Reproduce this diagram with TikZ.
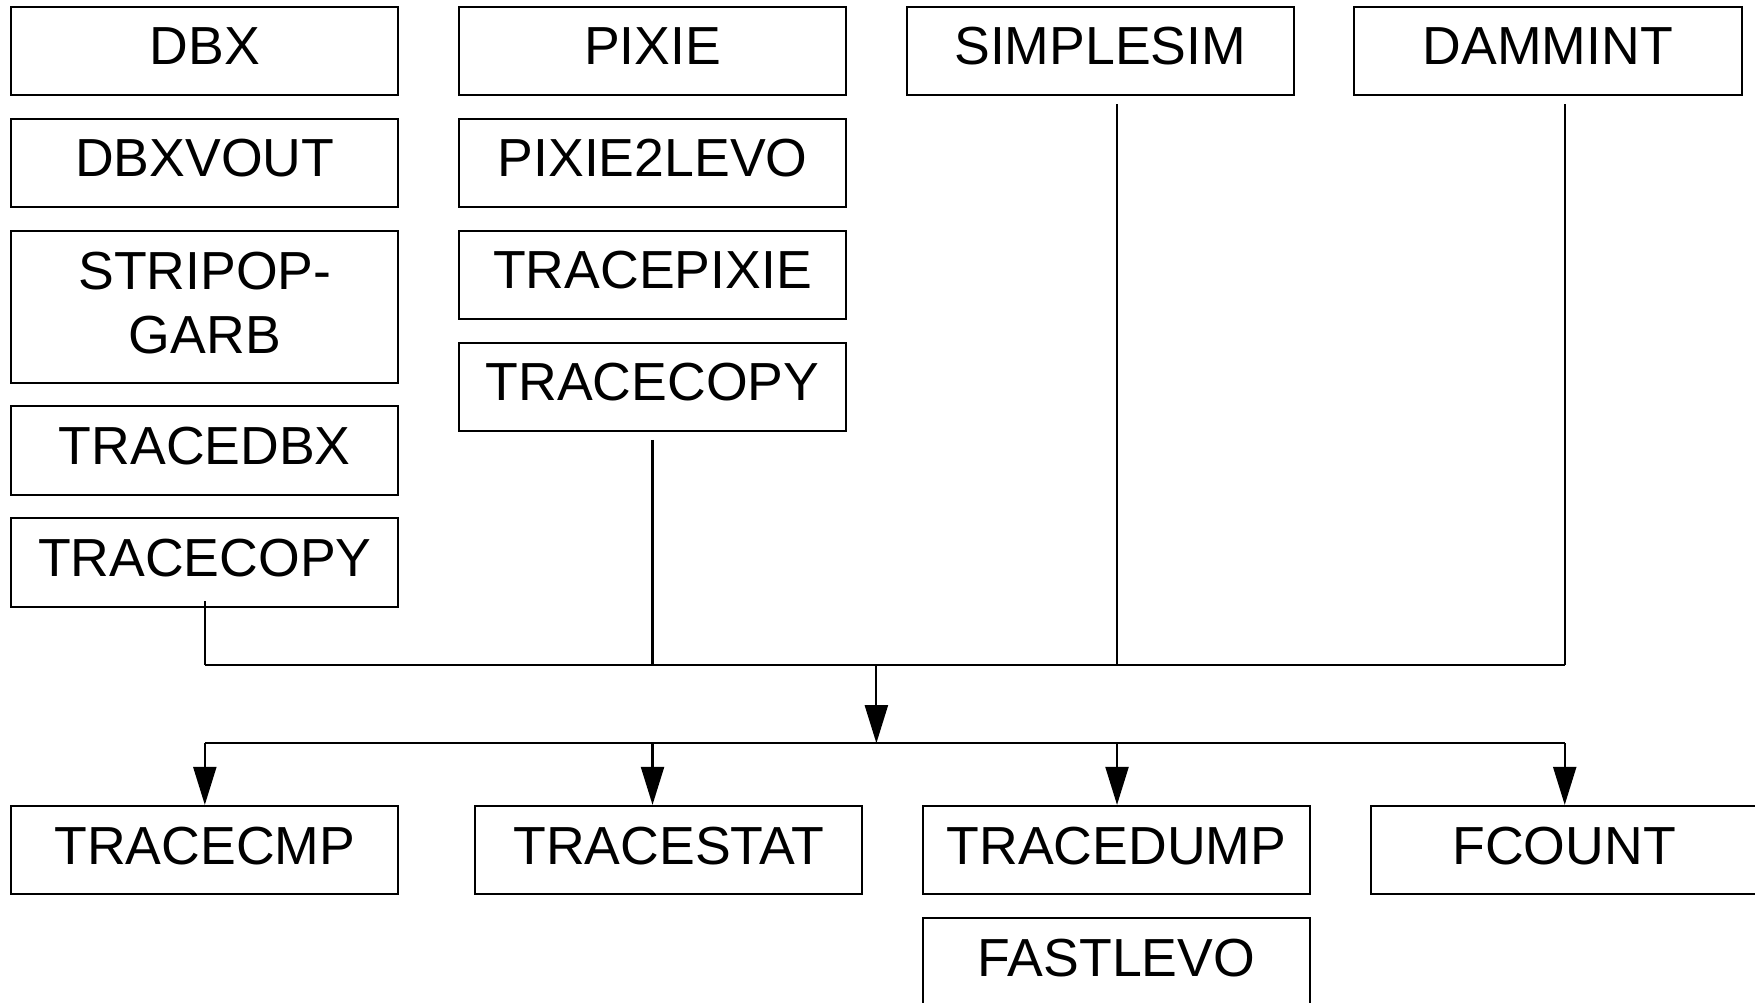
\documentclass[tikz,border=0pt]{standalone}
\usepackage{fontspec}
\setmainfont{Liberation Sans}
\usetikzlibrary{arrows.meta}
\tikzset{
  box/.style={draw, line width=1pt, rectangle, inner sep=0pt,
    minimum width=193.6pt, minimum height=44.2pt,
    font=\fontsize{26.8pt}{31.9pt}\selectfont, text height=19.2pt, text depth=5.2pt},
  tallbox/.style={draw, line width=1pt, rectangle, inner sep=0pt,
    minimum width=193.6pt, minimum height=76.1pt, align=center,
    font=\fontsize{26.8pt}{31.9pt}\selectfont},
  conn/.style={line width=1.1pt},
  arr/.style={line width=1.1pt, -{Triangle[length=19pt,width=11.5pt]}}
}
\begin{document}
\begin{tikzpicture}[x=0.5596pt, y=-0.5596pt]
\useasboundingbox (0,0) rectangle (1568,896);
% column 1
\node[box] (dbx) at (183,45.5) {DBX};
\node[box] (dbxvout) at (183,145.5) {DBXVOUT};
\node[tallbox] (strip) at (183,274) {};
\node[align=center, font=\fontsize{26.8pt}{31.9pt}\selectfont, inner sep=0pt] (striptext) at (183,271) {STRIPOP-\\GARB};
\node[box] (tracedbx) at (183,402.5) {TRACEDBX};
\node[box] (tracecopyA) at (183,502.5) {TRACECOPY};
% column 2
\node[box] (pixie) at (583,45.5) {PIXIE};
\node[box] (pixie2levo) at (583,145.5) {PIXIE2LEVO};
\node[box] (tracepixie) at (583,245.5) {TRACEPIXIE};
\node[box] (tracecopyB) at (583,345.5) {TRACECOPY};
% columns 3, 4
\node[box] (simplesim) at (983,45.5) {SIMPLESIM};
\node[box] (dammint) at (1383,45.5) {DAMMINT};
% bottom row
\node[box] (tracecmp) at (183,759.5) {TRACECMP};
\node[box] (tracestat) at (597.5,759.5) {TRACESTAT};
\node[box] (tracedump) at (997.5,759.5) {TRACEDUMP};
\node[box] (fcount) at (1397.5,759.5) {FCOUNT};
\node[box] (fastlevo) at (997.5,859.5) {FASTLEVO};
% junction coordinates
\coordinate (sA) at (183,537);
\coordinate (sB) at (583,393);
\coordinate (sC) at (998,93);
\coordinate (sD) at (1398,93);
\coordinate (jA) at (183,594);
\coordinate (jB) at (583,594);
\coordinate (jC) at (998,594);
\coordinate (jD) at (1398,594);
\coordinate (jM) at (783,594);
\coordinate (kM) at (783,664);
\coordinate (kA) at (183,664);
\coordinate (kB) at (583,664);
\coordinate (kC) at (998,664);
\coordinate (kD) at (1398,664);
% upper connectors
\draw[conn] (sA) -- (jA);
\draw[conn] (sB) -- (jB);
\draw[conn] (sC) -- (jC);
\draw[conn] (sD) -- (jD);
\draw[conn] (jA) -- (jD);
\draw[arr] (jM) -- (kM);
% lower connectors
\draw[conn] (kA) -- (kD);
\draw[arr] (kA) -- (kA |- tracecmp.north);
\draw[arr] (kB) -- (kB |- tracestat.north);
\draw[arr] (kC) -- (kC |- tracedump.north);
\draw[arr] (kD) -- (kD |- fcount.north);
\end{tikzpicture}
\end{document}
